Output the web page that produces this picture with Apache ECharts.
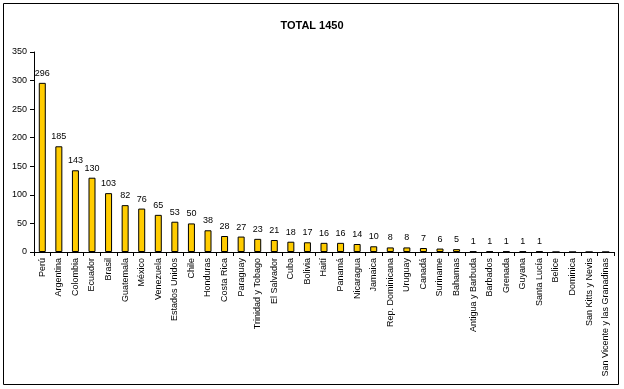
<!DOCTYPE html>
<html><head><meta charset="utf-8">
<script src="https://cdn.jsdelivr.net/npm/echarts@6/dist/echarts.min.js"></script>
<style>html,body{margin:0;padding:0;background:#fff}#c{width:624px;height:389px;position:relative}
#frame{position:absolute;left:3px;top:3px;width:615px;height:381px;border:1px solid #000;box-sizing:border-box;pointer-events:none}</style>
</head><body><div id="c"></div>
<script>
const title = "TOTAL 1450";
const categories = ["Perú","Argentina","Colombia","Ecuador","Brasil","Guatemala","México","Venezuela","Estados Unidos","Chile","Honduras","Costa Rica","Paraguay","Trinidad y Tobago","El Salvador","Cuba","Bolivia","Haití","Panamá","Nicaragua","Jamaica","Rep. Dominicana","Uruguay","Canadá","Suriname","Bahamas","Antigua y Barbuda","Barbados","Grenada","Guyana","Santa Lucía","Belice","Dominica","San Kitts y Nevis","San Vicente y las Granadinas"];
const values = [296,185,143,130,103,82,76,65,53,50,38,28,27,23,21,18,17,16,16,14,10,8,8,7,6,5,1,1,1,1,1,0,0,0,0];
const yTicks = [0,50,100,150,200,250,300,350];

const chart = echarts.init(document.getElementById('c'));
const font = 'Liberation Sans, Arial, sans-serif';
chart.setOption({
  animation: false,
  backgroundColor: '#fff',
  title: { text: title, left: 'center', top: 15, textStyle: { fontFamily: font, fontSize: 11, fontWeight: 'bold', color: '#000' } },
  graphic: [{ type: 'rect', shape: { x: 3.5, y: 3.5, width: 615, height: 381 }, style: { fill: 'none', stroke: '#000', lineWidth: 1 }, silent: true }],
  grid: { left: 34, right: 10, top: 52, bottom: 137, containLabel: false },
  xAxis: {
    type: 'category', data: categories, boundaryGap: true,
    axisLine: { lineStyle: { color: '#000', width: 1 } },
    axisTick: { show: true, alignWithLabel: false, length: 4, lineStyle: { color: '#000' } },
    axisLabel: { rotate: 90, interval: 0, fontFamily: font, fontSize: 9, color: '#000', margin: 6 }
  },
  yAxis: {
    type: 'value', min: yTicks[0], max: yTicks[yTicks.length-1], interval: 50,
    splitLine: { show: false },
    axisLine: { show: true, lineStyle: { color: '#000', width: 1 } },
    axisTick: { show: true, length: 4, lineStyle: { color: '#000' } },
    axisLabel: { fontFamily: font, fontSize: 9, color: '#000', margin: 7 }
  },
  series: [{
    type: 'bar', data: values, barWidth: 7,
    itemStyle: { color: '#FFCC00', borderColor: '#000', borderWidth: 1 },
    label: { show: true, position: 'top', distance: 5, fontFamily: font, fontSize: 9, color: '#000',
      formatter: p => p.value === 0 ? '' : String(p.value) }
  }]
});
</script></body></html>
